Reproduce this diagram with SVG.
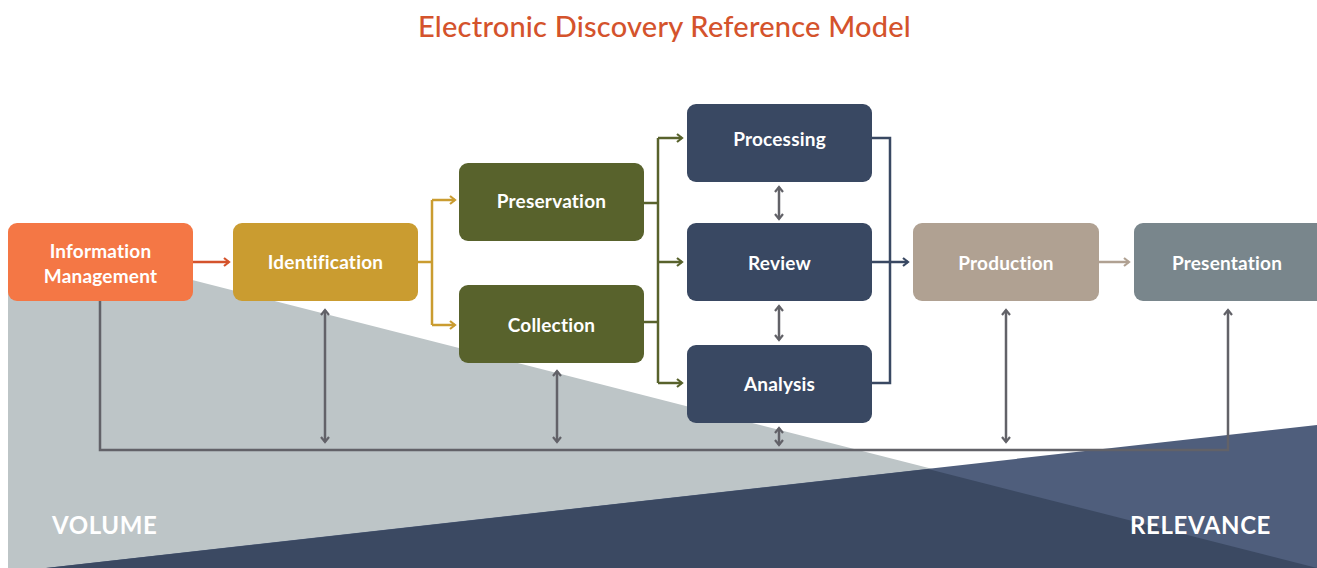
<svg xmlns="http://www.w3.org/2000/svg" width="1317" height="568" viewBox="0 0 1317 568">
  <style>
    .title { font-family: Lato, "Liberation Sans", sans-serif; font-size: 29px; font-weight: 500; fill: #D4532C; letter-spacing: 0.22px; }
    .lbl { font-family: Lato, "Liberation Sans", sans-serif; font-size: 19px; font-weight: 700; fill: #FFFFFF; text-anchor: middle; letter-spacing: 0.2px; }
    .band { font-family: Lato, "Liberation Sans", sans-serif; font-size: 24px; font-weight: 700; fill: #FFFFFF; letter-spacing: 0.6px; }
    .c { fill: none; stroke-width: 2.5; }
    .fb { fill: none; stroke: #626268; stroke-width: 2.5; }
  </style>
  <defs>
    <marker id="aOrange" viewBox="0 0 10 10" refX="8" refY="5" markerWidth="10" markerHeight="10" markerUnits="userSpaceOnUse" orient="auto-start-reverse">
      <path d="M3,1 L8,5 L3,9" fill="none" stroke="#D4532C" stroke-width="2.2"/>
    </marker>
    <marker id="aGold" viewBox="0 0 10 10" refX="8" refY="5" markerWidth="10" markerHeight="10" markerUnits="userSpaceOnUse" orient="auto-start-reverse">
      <path d="M3,1 L8,5 L3,9" fill="none" stroke="#CA9C30" stroke-width="2.2"/>
    </marker>
    <marker id="aOlive" viewBox="0 0 10 10" refX="8" refY="5" markerWidth="10" markerHeight="10" markerUnits="userSpaceOnUse" orient="auto-start-reverse">
      <path d="M3,1 L8,5 L3,9" fill="none" stroke="#58622C" stroke-width="2.2"/>
    </marker>
    <marker id="aNavy" viewBox="0 0 10 10" refX="8" refY="5" markerWidth="10" markerHeight="10" markerUnits="userSpaceOnUse" orient="auto-start-reverse">
      <path d="M3,1 L8,5 L3,9" fill="none" stroke="#394862" stroke-width="2.2"/>
    </marker>
    <marker id="aTan" viewBox="0 0 10 10" refX="8" refY="5" markerWidth="10" markerHeight="10" markerUnits="userSpaceOnUse" orient="auto-start-reverse">
      <path d="M3,1 L8,5 L3,9" fill="none" stroke="#B0A192" stroke-width="2.2"/>
    </marker>
    <marker id="aGrey" viewBox="0 0 10 10" refX="8" refY="5" markerWidth="10" markerHeight="10" markerUnits="userSpaceOnUse" orient="auto-start-reverse">
      <path d="M3,1 L8,5 L3,9" fill="none" stroke="#626268" stroke-width="2.2"/>
    </marker>
  </defs>

  <rect width="1317" height="568" fill="#FFFFFF"/>

  <!-- background bands: volume wedge, relevance wedge, and their overlap -->
  <g id="bands">
    <polygon points="8,233 8,568 1317,568 1317,567" fill="#BDC5C7"/>
    <polygon points="46,568 1317,425 1317,568" fill="#4F5E7C"/>
    <polygon points="46,568 928,469 1317,568" fill="#3B4962"/>
    <text class="band" x="52" y="534">VOLUME</text>
    <text class="band" x="1130" y="534">RELEVANCE</text>
  </g>

  <text class="title" x="418" y="37">Electronic Discovery Reference Model</text>

  <!-- connectors -->
  <g id="connectors">
    <path class="c" stroke="#D4532C" d="M193,262 H229" marker-end="url(#aOrange)"/>
    <path class="c" stroke="#CA9C30" d="M418,262 H432"/>
    <path class="c" stroke="#CA9C30" d="M432,200 V325"/>
    <path class="c" stroke="#CA9C30" d="M432,200 H455" marker-end="url(#aGold)"/>
    <path class="c" stroke="#CA9C30" d="M432,325 H455" marker-end="url(#aGold)"/>

    <path class="c" stroke="#58622C" d="M644,203 H658"/>
    <path class="c" stroke="#58622C" d="M644,322 H658"/>
    <path class="c" stroke="#58622C" d="M658,138 V383"/>
    <path class="c" stroke="#58622C" d="M658,138 H682" marker-end="url(#aOlive)"/>
    <path class="c" stroke="#58622C" d="M658,262 H682" marker-end="url(#aOlive)"/>
    <path class="c" stroke="#58622C" d="M658,383 H682" marker-end="url(#aOlive)"/>

    <path class="c" stroke="#394862" d="M872,138 H890 V383 H872"/>
    <path class="c" stroke="#394862" d="M872,262 H908" marker-end="url(#aNavy)"/>
    <path class="c" stroke="#B0A192" d="M1099,262 H1129" marker-end="url(#aTan)"/>

    <path class="c" stroke="#626268" d="M779,187 V219" marker-start="url(#aGrey)" marker-end="url(#aGrey)"/>
    <path class="c" stroke="#626268" d="M779,306 V340" marker-start="url(#aGrey)" marker-end="url(#aGrey)"/>

    <path class="fb" d="M100,301 V450 H1228 V310" marker-end="url(#aGrey)"/>
    <path class="fb" d="M325,310 V442" marker-start="url(#aGrey)" marker-end="url(#aGrey)"/>
    <path class="fb" d="M557,371 V442" marker-start="url(#aGrey)" marker-end="url(#aGrey)"/>
    <path class="fb" d="M779,428 V445" marker-start="url(#aGrey)" marker-end="url(#aGrey)"/>
    <path class="fb" d="M1006,310 V442" marker-start="url(#aGrey)" marker-end="url(#aGrey)"/>
  </g>

  <g id="information-management">
    <rect x="8" y="223" width="185" height="78" rx="9" fill="#F47745"/>
    <text class="lbl" x="100.5" y="258">Information</text>
    <text class="lbl" x="100.5" y="283">Management</text>
  </g>
  <g id="identification">
    <rect x="233" y="223" width="185" height="78" rx="9" fill="#CA9C30"/>
    <text class="lbl" x="325.5" y="269">Identification</text>
  </g>
  <g id="preservation">
    <rect x="459" y="163" width="185" height="78" rx="9" fill="#58622C"/>
    <text class="lbl" x="551.5" y="208">Preservation</text>
  </g>
  <g id="collection">
    <rect x="459" y="285" width="185" height="78" rx="9" fill="#58622C"/>
    <text class="lbl" x="551.5" y="332">Collection</text>
  </g>
  <g id="processing">
    <rect x="687" y="104" width="185" height="78" rx="9" fill="#394862"/>
    <text class="lbl" x="779.5" y="146">Processing</text>
  </g>
  <g id="review">
    <rect x="687" y="223" width="185" height="78" rx="9" fill="#394862"/>
    <text class="lbl" x="779.5" y="270">Review</text>
  </g>
  <g id="analysis">
    <rect x="687" y="345" width="185" height="78" rx="9" fill="#394862"/>
    <text class="lbl" x="779.5" y="391">Analysis</text>
  </g>
  <g id="production">
    <rect x="913" y="223" width="186" height="78" rx="9" fill="#B0A192"/>
    <text class="lbl" x="1006" y="270">Production</text>
  </g>
  <g id="presentation">
    <rect x="1134" y="223" width="192" height="78" rx="9" fill="#79868C"/>
    <text class="lbl" x="1227" y="270">Presentation</text>
  </g>
</svg>
